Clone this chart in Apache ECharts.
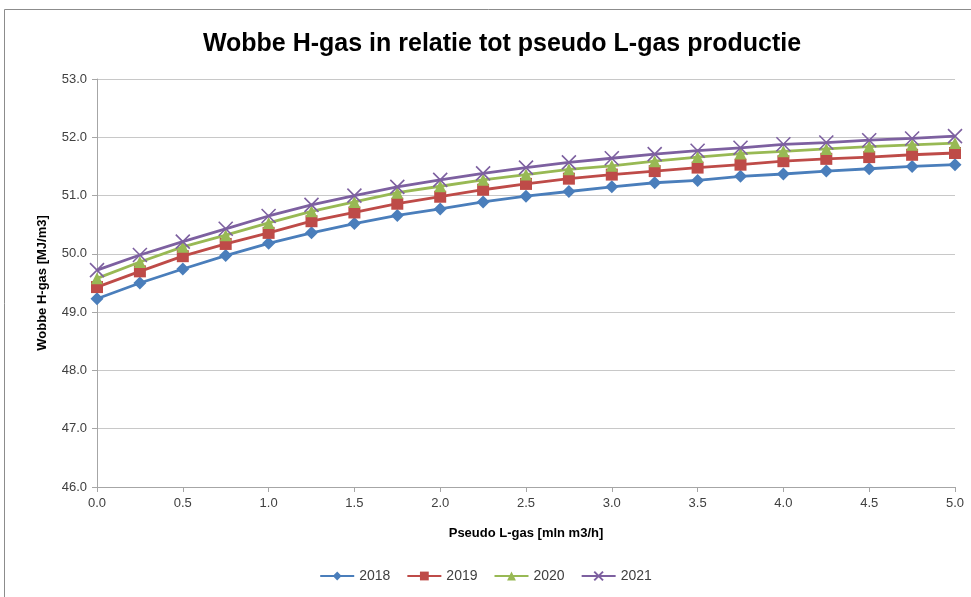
<!DOCTYPE html>
<html lang="nl">

<head>
  <meta charset="UTF-8">
  <title>Wobbe H-gas</title>
  <script src="https://cdn.jsdelivr.net/npm/echarts@6/dist/echarts.min.js"></script>
  <style>
    body { margin: 0; background: #fff; }
    #chart { width: 971px; height: 597px; }
  </style>
</head>

<body>
  <div id="chart"></div>

  <script>
    // pseudo L-gas productie (mln m3/h)
    var xVals = [0, 0.25, 0.5, 0.75, 1.0, 1.25, 1.5, 1.75, 2.0, 2.25, 2.5, 2.75, 3.0, 3.25, 3.5, 3.75, 4.0, 4.25, 4.5, 4.75, 5.0]
    var years = ['2018', '2019', '2020', '2021']
    var w2018 = [49.23, 49.50, 49.74, 49.97, 50.18, 50.36, 50.52, 50.66, 50.77, 50.89, 50.99, 51.07, 51.15, 51.22, 51.26, 51.33, 51.37, 51.42, 51.46, 51.50, 51.53]
    var w2019 = [49.43, 49.70, 49.96, 50.17, 50.36, 50.56, 50.71, 50.86, 50.98, 51.10, 51.20, 51.29, 51.36, 51.42, 51.48, 51.53, 51.59, 51.63, 51.66, 51.70, 51.73]
    var w2020 = [49.58, 49.86, 50.12, 50.32, 50.53, 50.73, 50.89, 51.05, 51.16, 51.27, 51.36, 51.45, 51.51, 51.59, 51.66, 51.72, 51.76, 51.80, 51.84, 51.87, 51.90]
    var w2021 = [49.72, 49.98, 50.21, 50.43, 50.65, 50.84, 51.00, 51.15, 51.27, 51.38, 51.48, 51.57, 51.64, 51.71, 51.77, 51.82, 51.88, 51.91, 51.95, 51.98, 52.02]

    var colors = ['#4a7ebb', '#be4b48', '#98b954', '#7d60a0']
    var symbols = ['diamond', 'rect', 'triangle', 'path://M0,0L10,10M10,0L0,10']
    var sizes = [13, 12, 12, 14]
    var allData = [w2018, w2019, w2020, w2021]

    function pairs(ys) {
      return ys.map(function (y, i) { return [xVals[i], y] })
    }

    var series = years.map(function (name, i) {
      var item = { color: colors[i] }
      if (i === 3) {
        item.borderColor = colors[i]
        item.borderWidth = 1.6
      }
      return {
        name: name,
        type: 'line',
        data: pairs(allData[i]),
        symbol: symbols[i],
        symbolSize: sizes[i],
        showAllSymbol: true,
        lineStyle: { color: colors[i], width: 2.8 },
        itemStyle: item,
        emphasis: { disabled: true },
        z: 2 + i
      }
    })

    var mCharts = echarts.init(document.getElementById('chart'))
    var option = {
      animation: false,
      backgroundColor: '#fff',
      textStyle: { fontFamily: 'Liberation Sans' },
      graphic: [{
        type: 'rect',
        shape: { x: 4.5, y: 9.5, width: 980, height: 600 },
        style: { fill: 'none', stroke: '#8c8c8c', lineWidth: 1 },
        silent: true
      }],
      title: {
        text: 'Wobbe H-gas in relatie tot pseudo L-gas productie',
        left: 497,
        textAlign: 'center',
        top: 27,
        textStyle: { fontFamily: 'Liberation Sans', fontWeight: 'bold', fontSize: 25, color: '#000' }
      },
      legend: {
        data: years,
        bottom: 9,
        left: 'center',
        itemWidth: 34,
        itemHeight: 11,
        itemGap: 16,
        textStyle: { fontSize: 14, color: '#404040' }
      },
      grid: { left: 97, right: 16, top: 79, bottom: 110 },
      xAxis: {
        type: 'value',
        min: 0,
        max: 5,
        interval: 0.5,
        name: 'Pseudo L-gas [mln m3/h]',
        nameLocation: 'middle',
        nameGap: 40,
        nameTextStyle: { fontWeight: 'bold', fontSize: 13, color: '#000' },
        axisLine: { lineStyle: { color: '#a6a6a6' } },
        axisTick: { show: true, length: 5, lineStyle: { color: '#a6a6a6' } },
        axisLabel: { fontSize: 13, color: '#404040', margin: 10, formatter: function (v) { return v.toFixed(1) } },
        splitLine: { show: false }
      },
      yAxis: {
        type: 'value',
        min: 46,
        max: 53,
        interval: 1,
        name: 'Wobbe H-gas [MJ/m3]',
        nameLocation: 'middle',
        nameGap: 48,
        nameTextStyle: { fontWeight: 'bold', fontSize: 13, color: '#000' },
        axisLine: { show: true, lineStyle: { color: '#a6a6a6' } },
        axisTick: { show: true, length: 5, lineStyle: { color: '#a6a6a6' } },
        axisLabel: { fontSize: 13, color: '#404040', margin: 10, formatter: function (v) { return v.toFixed(1) } },
        splitLine: { lineStyle: { color: '#c8c8c8' } }
      },
      series: series
    }
    mCharts.setOption(option)
  </script>
</body>

</html>
